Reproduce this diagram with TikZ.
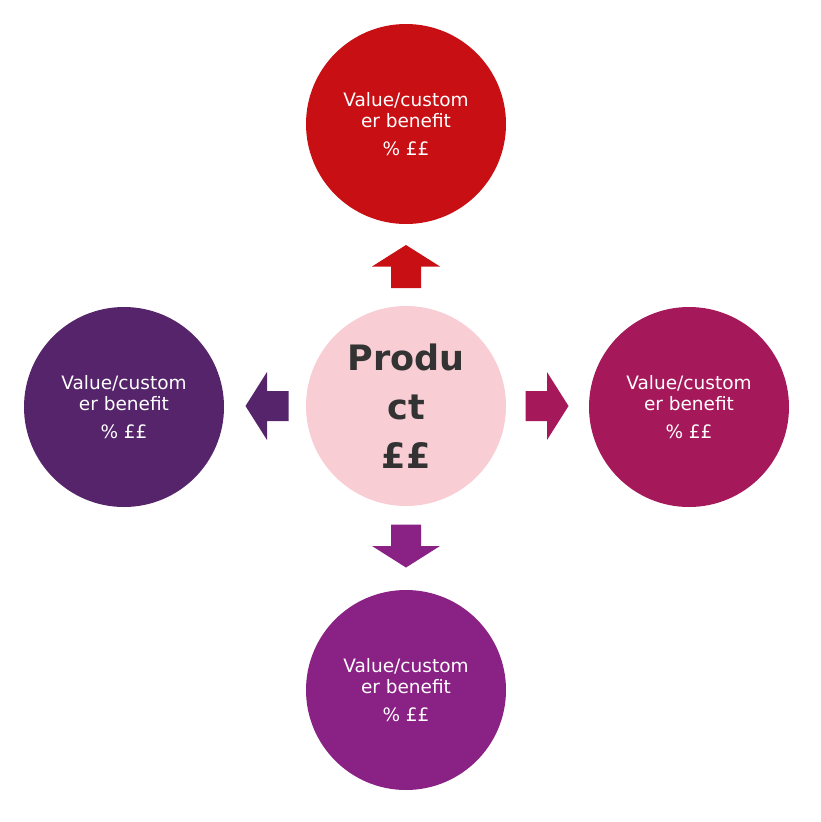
\documentclass[tikz,border=0pt]{standalone}
\usepackage{fontspec}
\setmainfont{DejaVu Sans}
\definecolor{cred}{HTML}{C80F14}
\definecolor{cleft}{HTML}{55246A}
\definecolor{cright}{HTML}{A5185A}
\definecolor{cbot}{HTML}{8A2184}
\definecolor{ccen}{HTML}{F8CDD4}
\definecolor{ctxt}{HTML}{333333}
\begin{document}
\begin{tikzpicture}[x=1pt,y=-1pt,
  sat/.style={circle,minimum size=200pt,inner sep=0pt,text=white,align=center,font=\fontsize{18.5}{21}\selectfont}]
\useasboundingbox (0,0) rectangle (820,822);
\node[sat,fill=ccen,text=ctxt,font=\bfseries\fontsize{35}{49}\selectfont] (c) at (406,406) {Produ\\ct\\££};
\node[sat,fill=cred] (t) at (406,124) {Value/custom\\er benefit\\[7pt]\% ££};
\node[sat,fill=cleft] (l) at (124,407) {Value/custom\\er benefit\\[7pt]\% ££};
\node[sat,fill=cright] (r) at (689,407) {Value/custom\\er benefit\\[7pt]\% ££};
\node[sat,fill=cbot] (b) at (406,690) {Value/custom\\er benefit\\[7pt]\% ££};
\coordinate (at) at (406,266.5);
\coordinate (al) at (267,406);
\coordinate (ar) at (547,406);
\coordinate (ab) at (406,546);
\fill[cred,shift={(at)},rotate=90] (-21.5,-15)--(0,-15)--(0,-34)--(21.5,0)--(0,34)--(0,15)--(-21.5,15)--cycle;
\fill[cleft,shift={(al)},rotate=180] (-21.5,-15)--(0,-15)--(0,-34)--(21.5,0)--(0,34)--(0,15)--(-21.5,15)--cycle;
\fill[cright,shift={(ar)}] (-21.5,-15)--(0,-15)--(0,-34)--(21.5,0)--(0,34)--(0,15)--(-21.5,15)--cycle;
\fill[cbot,shift={(ab)},rotate=-90] (-21.5,-15)--(0,-15)--(0,-34)--(21.5,0)--(0,34)--(0,15)--(-21.5,15)--cycle;
\end{tikzpicture}
\end{document}
